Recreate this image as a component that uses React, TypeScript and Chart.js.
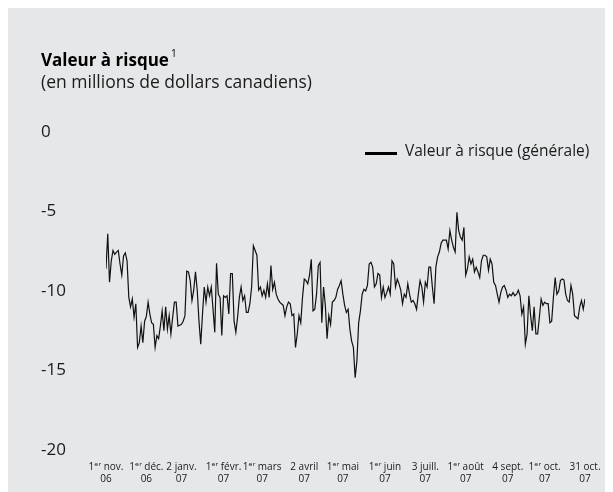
import React, { useEffect, useRef } from "react";
import { Chart, registerables } from "chart.js";

Chart.register(...registerables);

const TITLE = "Valeur à risque";
const TITLE_NOTE = "1";
const SUBTITLE = "(en millions de dollars canadiens)";
const SERIES_LABEL = "Valeur à risque (générale)";

// Daily value-at-risk, Nov 1 2006 – Oct 31 2007 (millions CAD)
const VAR_VALUES = [
  -8.6, -6.4, -9.45, -8.1, -7.45, -7.7, -7.55, -7.45, -8.3, -9.0,
  -7.8, -7.6, -8.1, -10.4, -11.0, -10.5, -11.65, -10.8, -13.55, -13.25,
  -12.2, -13.25, -11.9, -11.6, -10.7, -11.45, -12.0, -12.1, -13.55, -12.8,
  -13.0, -12.2, -11.25, -12.5, -11.0, -12.4, -11.55, -12.7, -11.65, -10.7,
  -10.7, -12.2, -12.15, -12.1, -11.9, -11.55, -8.75, -8.8, -9.35, -10.6,
  -9.95, -8.8, -9.95, -11.9, -13.35, -11.45, -9.75, -10.7, -9.75, -10.3,
  -9.75, -11.15, -12.6, -8.25, -10.2, -10.4, -12.8, -10.3, -10.4, -10.3,
  -11.45, -8.9, -8.9, -11.9, -12.6, -11.65, -10.4, -9.75, -10.6, -10.3,
  -11.35, -11.35, -10.8, -9.75, -7.15, -7.45, -7.75, -9.95, -9.75, -10.3,
  -9.95, -10.4, -9.55, -10.4, -8.4, -9.9, -9.45, -10.2, -10.5, -10.7,
  -10.8, -10.9, -11.55, -11.0, -10.7, -10.8, -11.55, -11.45, -13.55, -12.7,
  -11.55, -12.0, -10.4, -9.25, -9.35, -9.55, -9.0, -8.0, -11.25, -11.15,
  -10.2, -8.4, -8.2, -12.0, -9.75, -10.9, -13.0, -11.55, -12.1, -10.7,
  -10.6, -10.4, -9.9, -9.65, -9.35, -10.2, -10.9, -11.35, -11.15, -12.4,
  -13.15, -13.55, -15.45, -14.4, -12.0, -11.25, -10.2, -9.9, -10.0, -9.65,
  -8.3, -8.2, -8.5, -9.75, -9.55, -8.9, -9.0, -10.4, -9.75, -10.4,
  -10.1, -9.75, -10.2, -8.1, -8.3, -9.75, -9.25, -9.55, -9.95, -10.8,
  -10.2, -10.4, -9.55, -10.2, -10.7, -10.6, -10.8, -11.15, -10.2, -9.35,
  -9.75, -10.7, -9.45, -9.75, -8.5, -8.5, -9.75, -10.8, -8.5, -7.85,
  -7.55, -7.0, -6.8, -6.8, -6.8, -7.35, -6.2, -6.8, -7.25, -7.55,
  -5.05, -6.2, -6.6, -6.8, -6.0, -9.0, -8.6, -7.85, -8.3, -8.0,
  -8.8, -8.5, -8.8, -9.15, -8.1, -7.75, -7.75, -7.85, -8.7, -8.0,
  -8.3, -9.45, -9.65, -10.2, -10.7, -10.1, -9.75, -9.65, -9.95, -10.4,
  -10.2, -10.3, -10.1, -10.3, -10.2, -9.95, -10.3, -11.45, -11.0, -13.35,
  -12.7, -10.3, -11.55, -12.5, -11.0, -12.7, -12.7, -11.65, -10.5, -10.9,
  -10.7, -10.8, -10.8, -12.0, -11.9, -10.4, -9.15, -10.2, -10.0, -9.35,
  -9.25, -9.3, -10.2, -10.6, -10.7, -9.65, -10.2, -11.55, -11.65, -11.75,
  -11.0, -10.6, -11.15, -10.5,
];

// Positions (observation index) of the dated x-axis labels
const TICK_INDEX = [0, 23, 43, 67, 89, 113, 135, 159, 182, 205, 229, 250, 273];
const TICK_LABELS = [
  ["1ᵉʳ nov.", "06"],
  ["1ᵉʳ déc.", "06"],
  ["2 janv.", "07"],
  ["1ᵉʳ févr.", "07"],
  ["1ᵉʳ mars", "07"],
  ["2 avril", "07"],
  ["1ᵉʳ mai", "07"],
  ["1ᵉʳ juin", "07"],
  ["3 juill.", "07"],
  ["1ᵉʳ août", "07"],
  ["4 sept.", "07"],
  ["1ᵉʳ oct.", "07"],
  ["31 oct.", "07"],
];

const Y_MIN = -20;
const Y_MAX = 0;
const Y_STEP = 5;

const FONT = '"Open Sans", "DejaVu Sans", sans-serif';
const TEXT = "#1a1a1a";
const BG = "#e6e7e8";

export default function App() {
  const ref = useRef<HTMLCanvasElement | null>(null);

  useEffect(() => {
    document.documentElement.style.overflow = "hidden";
    document.body.style.overflow = "hidden";
    const canvas = ref.current;
    if (!canvas) return;
    const chart = new Chart(canvas, {
      type: "line",
      data: {
        datasets: [
          {
            label: SERIES_LABEL,
            data: VAR_VALUES.map((v, i) => ({ x: i, y: v })),
            borderColor: "#111111",
            borderWidth: 1.2,
            pointRadius: 0,
            tension: 0,
            fill: false,
          },
        ],
      },
      options: {
        responsive: false,
        animation: false,
        layout: { padding: { left: 33, top: 124, right: 28, bottom: 0 } },
        plugins: {
          legend: { display: false },
          tooltip: { enabled: false },
          title: { display: false },
        },
        scales: {
          x: {
            type: "linear",
            min: 0,
            max: VAR_VALUES.length - 1,
            grid: { display: false, drawTicks: false },
            border: { display: false },
            afterBuildTicks: (s: any) => {
              s.ticks = TICK_INDEX.map((v) => ({ value: v }));
            },
            afterFit: (s: any) => {
              s.height = 42;
            },
            ticks: {
              autoSkip: false,
              maxRotation: 0,
              minRotation: 0,
              padding: 11,
              color: TEXT,
              font: { family: FONT, size: 10, lineHeight: 1.2 },
              callback: (_v: any, i: number) => TICK_LABELS[i],
            },
          },
          y: {
            min: Y_MIN,
            max: Y_MAX,
            grid: { display: false, drawTicks: false },
            border: { display: false },
            afterFit: (s: any) => {
              s.width = 65;
            },
            ticks: {
              stepSize: Y_STEP,
              crossAlign: "far",
              padding: 0,
              color: TEXT,
              font: { family: FONT, size: 17 },
              callback: (v: any) => String(v),
            },
          },
        },
      },
    } as any);
    return () => chart.destroy();
  }, []);

  return (
    <div
      style={{
        position: "relative",
        width: 605,
        height: 484,
        background: BG,
        fontFamily: FONT,
        color: TEXT,
        overflow: "hidden",
      }}
    >
      <canvas
        ref={ref}
        width={605}
        height={484}
        style={{ position: "absolute", left: 0, top: 0, width: 605, height: 484 }}
      />
      <div
        style={{
          position: "absolute",
          left: 33,
          top: 43,
          fontSize: 17,
          fontWeight: 700,
          lineHeight: "17px",
          whiteSpace: "nowrap",
          color: "#000",
        }}
      >
        {TITLE}
        <span style={{ fontSize: 10, fontWeight: 400, position: "relative", top: -9, marginLeft: 2 }}>
          {TITLE_NOTE}
        </span>
      </div>
      <div
        style={{
          position: "absolute",
          left: 33,
          top: 65,
          fontSize: 17.5,
          lineHeight: "17.5px",
          whiteSpace: "nowrap",
        }}
      >
        {SUBTITLE}
      </div>
      <div
        style={{ position: "absolute", left: 357, top: 144, width: 32, height: 2.5, background: "#000" }}
      />
      <div
        style={{
          position: "absolute",
          left: 397,
          top: 135,
          fontSize: 15.5,
          lineHeight: "15.5px",
          whiteSpace: "nowrap",
        }}
      >
        {SERIES_LABEL}
      </div>
    </div>
  );
}
